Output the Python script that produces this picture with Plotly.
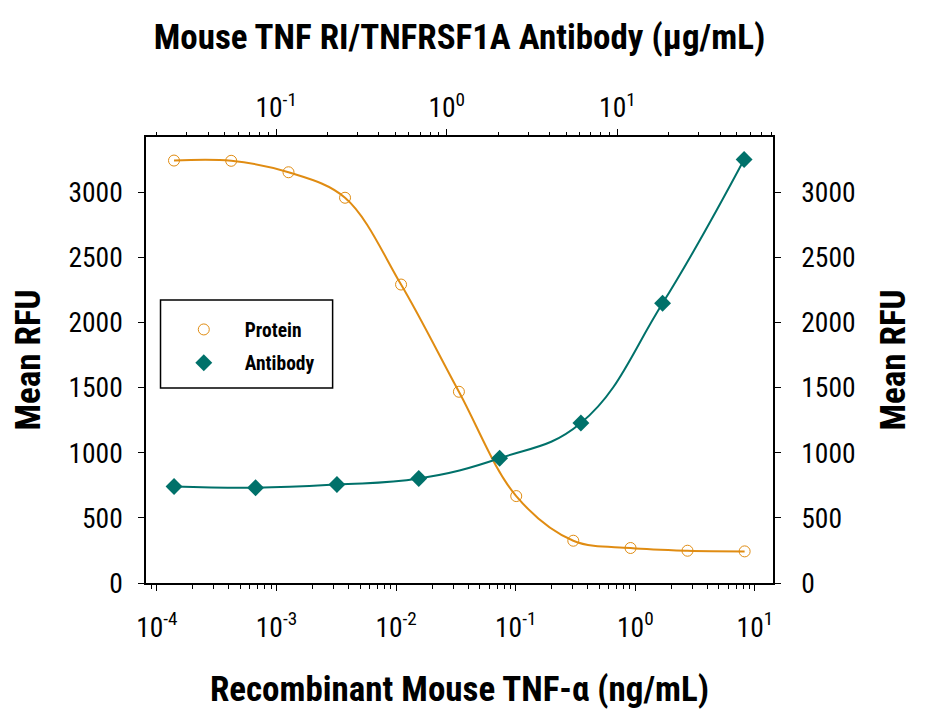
import plotly.graph_objects as go

# Recombinant Mouse TNF-alpha (ng/mL) -> bottom axis
protein_x = [0.000139, 0.000418, 0.00126, 0.00374, 0.0110, 0.0335, 0.101, 0.303, 0.912, 2.73, 8.20]
protein_y = [3247, 3245, 3157, 2961, 2294, 1470, 668, 325, 269, 248, 243]

# Mouse TNF RI/TNFRSF1A Antibody (ug/mL) -> top axis
antibody_x = [0.0252, 0.0757, 0.227, 0.685, 2.04, 6.11, 18.4, 55.3]
antibody_y = [742, 732, 757, 803, 959, 1230, 2150, 3255]

ORANGE = "#E08C12"
TEAL = "#00716A"
FONT = "Roboto Condensed, Liberation Sans Narrow, DejaVu Sans Condensed, Roboto, sans-serif"

OFF = 8  # page body margin
FW, FH = 926 - 2 * OFF, 722 - 2 * OFF
# target screen positions of the plot frame
SL, SR, ST, SB = 146, 781, 137.3, 584.4
L, R, T, B = SL - OFF, SR - OFF, ST - OFF, SB - OFF


def px(xs):
    return (xs - SL) / (SR - SL)


def py(ys):
    return (SB - ys) / (SB - ST)


fig = go.Figure()
fig.add_trace(go.Scatter(x=protein_x, y=protein_y, mode="lines", line=dict(color=ORANGE, width=2, shape="spline", smoothing=1.0),
                         showlegend=False, hoverinfo="skip"))
fig.add_trace(go.Scatter(x=protein_x, y=protein_y, mode="markers", name="Protein", legendgroup="a",
                         marker=dict(symbol="circle-open", size=11, color=ORANGE, line=dict(width=1))))
fig.add_trace(go.Scatter(x=antibody_x, y=antibody_y, mode="lines", xaxis="x2", yaxis="y2",
                         line=dict(color=TEAL, width=2, shape="spline", smoothing=1.2), showlegend=False, hoverinfo="skip"))
fig.add_trace(go.Scatter(x=antibody_x, y=antibody_y, mode="markers", name="Antibody", legendgroup="b", xaxis="x2", yaxis="y2",
                         marker=dict(symbol="diamond", size=13, color=TEAL)))

bottom_vals = [1e-4, 1e-3, 1e-2, 1e-1, 1e0, 1e1]
bottom_text = ["10<sup>-4</sup>", "10<sup>-3</sup>", "10<sup>-2</sup>", "10<sup>-1</sup>", "10<sup>0</sup>", "10<sup>1</sup>"]
top_vals = [1e-1, 1e0, 1e1]
top_text = ["10<sup>-1</sup>", "10<sup>0</sup>", "10<sup>1</sup>"]
y_vals = [0, 500, 1000, 1500, 2000, 2500, 3000]

tickfont = dict(family=FONT, size=27.5, color="black")
titlefont = dict(family=FONT, size=35, color="black", weight="bold")

common = dict(showline=True, linecolor="black", linewidth=1.5, ticks="outside", tickcolor="black", tickwidth=1.2,
              showgrid=False, zeroline=False, tickfont=tickfont)

fig.update_layout(
    width=FW, height=FH,
    margin=dict(l=L, r=FW - R, t=T, b=FH - B, pad=0),
    plot_bgcolor="white", paper_bgcolor="white",
    showlegend=True,
    xaxis=dict(type="log", range=[-4.091, 1.151], tickvals=bottom_vals, ticktext=bottom_text, ticklen=6,
               minor=dict(ticks="outside", ticklen=4, dtick="D1", tickcolor="black", tickwidth=1.2),
               title=dict(text="Recombinant Mouse TNF-α (ng/mL)", font=titlefont, standoff=34),
               ticklabelstandoff=13, **common),
    xaxis2=dict(type="log", range=[-1.763, 1.912], overlaying="x", side="top", anchor="y2",
                tickvals=top_vals, ticktext=top_text, ticklen=6,
                minor=dict(ticks="outside", ticklen=3, dtick="D1", tickcolor="black", tickwidth=1.2),
                title=dict(text="Mouse TNF RI/TNFRSF1A Antibody (μg/mL)", font=titlefont, standoff=27),
                ticklabelstandoff=1, **common),
    yaxis=dict(range=[0, 3428], tickvals=y_vals, ticklen=6,
               title=dict(text="Mean RFU", font=titlefont, standoff=19), ticklabelstandoff=10, **common),
    yaxis2=dict(range=[0, 3428], tickvals=y_vals, ticklen=6, overlaying="y", side="right", anchor="x2",
                title=dict(text="Mean RFU", font=titlefont, standoff=26), ticklabelstandoff=15, **common),
    legend=dict(x=px(163), y=py(311), xanchor="left", yanchor="top",
                bgcolor="rgba(0,0,0,0)", borderwidth=0, traceorder="grouped", tracegroupgap=5,
                font=dict(family=FONT, size=19.5, color="black", weight="bold"), itemwidth=72),
    shapes=[dict(type="rect", xref="paper", yref="paper",
                 x0=px(160.7), x1=px(335), y0=py(389), y1=py(300.7),
                 line=dict(color="black", width=1.5), fillcolor="rgba(0,0,0,0)")],
)

fig.write_html("out.html")
